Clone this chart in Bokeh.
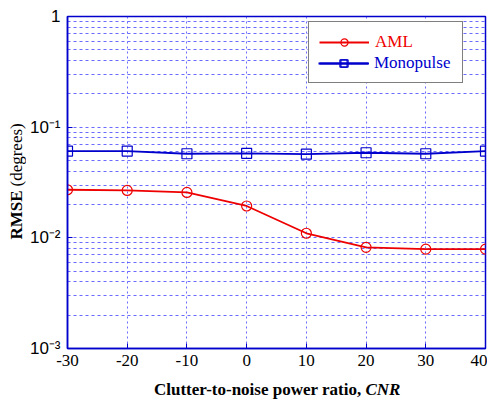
import math
from bokeh.plotting import figure
from bokeh.layouts import row, column
from bokeh.models import (FixedTicker, Legend, LegendItem, Label, ColumnDataSource)
from bokeh.embed import file_html
from bokeh.resources import INLINE

# ---- data ----
cnr = [-30, -20, -10, 0, 10, 20, 30, 40]
aml = [0.0272, 0.0268, 0.0257, 0.0194, 0.0110, 0.0082, 0.0079, 0.0079]
monopulse = [0.0608, 0.0608, 0.0575, 0.0580, 0.0570, 0.0587, 0.0575, 0.0608]
x_ticks = [-30, -20, -10, 0, 10, 20, 30, 40]
x_tick_labels = {t: str(t) for t in x_ticks}
y_ticks = [0.001, 0.01, 0.1, 1]
y_tick_labels = {0.001: "10\u207b\u00b3", 0.01: "10\u207b\u00b2", 0.1: "10\u207b\u00b9", 1: "1"}
x_title = "Clutter-to-noise power ratio,"
x_title_italic = "CNR"
y_title_bold = "RMSE"
y_title_plain = "(degrees)"
series_names = ["AML", "Monopulse"]

RED = "#ee0000"
BLUE = "#0000cc"
GRID = "#3a3aff"

p = figure(width=461, height=378, y_axis_type="log",
           x_range=(-30, 40), y_range=(1e-3, 1),
           output_backend="svg", toolbar_location=None,
           min_border_left=40, min_border_right=2, min_border_top=16, min_border_bottom=30)

p.outline_line_color = BLUE
p.outline_line_width = 1.5

minor = [m * 10.0 ** e for e in range(-3, 0) for m in range(2, 10)]
p.yaxis.ticker = FixedTicker(ticks=y_ticks, minor_ticks=minor)
p.xaxis.ticker = FixedTicker(ticks=x_ticks)
p.yaxis.major_label_overrides = y_tick_labels
p.xaxis.major_label_overrides = x_tick_labels

for ax in (p.xaxis, p.yaxis):
    ax.axis_line_color = BLUE
    ax.axis_line_width = 1.5
    ax.major_tick_line_color = BLUE
    ax.major_tick_in = 5
    ax.major_tick_out = 0
    ax.minor_tick_line_color = None
    ax.major_label_text_color = "black"
    ax.major_label_text_font_size = "17px"

p.xaxis.major_label_text_font = "Liberation Serif"
p.xaxis.major_label_standoff = 6
p.yaxis.major_label_text_font = "Liberation Sans"
p.yaxis.major_label_standoff = 3

for attr in ("grid_line", "minor_grid_line"):
    pass
p.xgrid.grid_line_color = GRID
p.xgrid.grid_line_dash = "2 3"
p.xgrid.grid_line_alpha = 0.75
p.ygrid.grid_line_color = GRID
p.ygrid.grid_line_dash = "3 3"
p.ygrid.grid_line_alpha = 0.75
p.ygrid.minor_grid_line_color = GRID
p.ygrid.minor_grid_line_dash = "3 3"
p.ygrid.minor_grid_line_alpha = 0.75

src = ColumnDataSource(dict(x=cnr, aml=aml, mono=monopulse))
l1 = p.line("x", "aml", source=src, line_color=RED, line_width=1.8)
m1 = p.scatter("x", "aml", source=src, marker="circle", size=10,
               line_color=RED, fill_color=None, line_width=1.2)
l2 = p.line("x", "mono", source=src, line_color=BLUE, line_width=1.8)
m2 = p.scatter("x", "mono", source=src, marker="square", size=10,
               line_color=BLUE, fill_color=None, line_width=1.2)

common = dict(margin=0, padding=10, spacing=2, glyph_width=50, glyph_height=18,
              label_height=18, label_standoff=6, label_width=77,
              label_text_font="Liberation Serif", label_text_font_size="17px",
              border_line_color="black", border_line_width=1, location=(241, 265))
legA = Legend(items=[LegendItem(label=series_names[0], renderers=[l1, m1]),
                     LegendItem(label=" ", renderers=[l2, m2])],
              background_fill_color="white", background_fill_alpha=1,
              label_text_color=RED, **common)
legB = Legend(items=[LegendItem(label=series_names[1], renderers=[l2, m2])],
              border_line_alpha=0, background_fill_alpha=0,
              label_text_color=BLUE, **common)
p.add_layout(legA)
p.add_layout(legB)


def text_panel(w, h):
    f = figure(width=w, height=h, x_range=(0, 1), y_range=(0, 1),
               x_axis_type=None, y_axis_type=None, output_backend="svg",
               toolbar_location=None, min_border=0)
    f.outline_line_color = None
    return f


lab = dict(x_units="screen", y_units="screen", text_baseline="middle",
           text_font="Liberation Serif", text_font_size="17px", text_color="black")

# x-axis title (bold + bold italic); its frame lines up with the chart frame
px = text_panel(461, 28)
px.add_layout(Label(x=294, y=17, text=x_title, text_align="right",
                    text_font_style="bold", **lab))
px.add_layout(Label(x=298, y=17, text=x_title_italic, text_align="left",
                    text_font_style="bold italic", **lab))

# y-axis title (bold + regular), rotated
py = text_panel(26, 378)
py.add_layout(Label(x=16, y=188, text=y_title_bold, angle=math.pi / 2,
                    text_align="right", text_font_style="bold", **lab))
py.add_layout(Label(x=16, y=192, text=y_title_plain, angle=math.pi / 2,
                    text_align="left", text_font_style="normal", **lab))

layout = row(py, column(p, px))
open("out.html", "w").write(file_html(layout, INLINE))
